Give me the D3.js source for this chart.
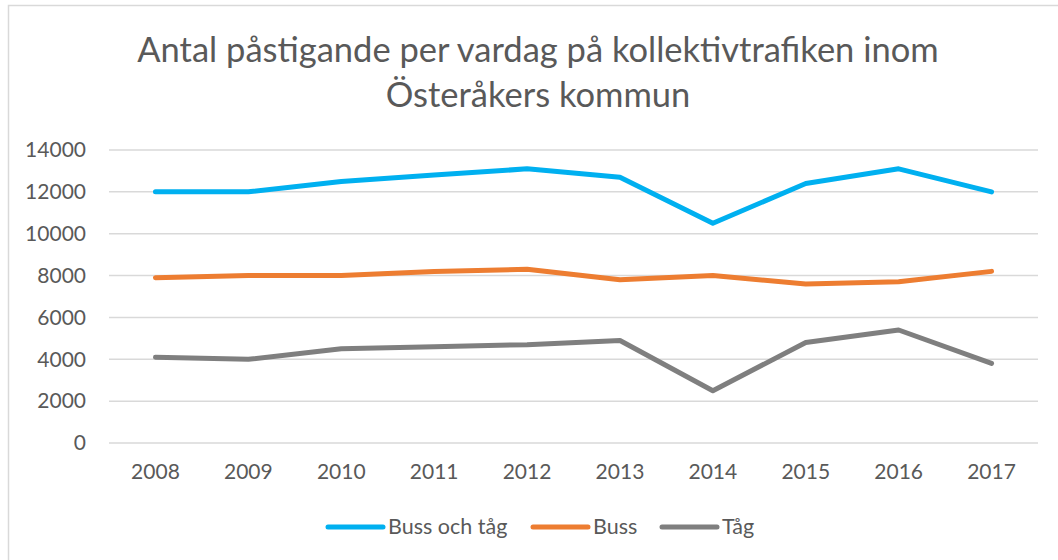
<!DOCTYPE html>
<html><head><meta charset="utf-8">
<script src="https://cdn.jsdelivr.net/npm/d3@7"></script>
<style>body{margin:0;background:#fff}svg{display:block}text{font-family:Lato,"Open Sans",sans-serif;fill:#595959}</style>
</head><body><svg id="c" width="1058" height="560"></svg>
<script>
const years = ["2008","2009","2010","2011","2012","2013","2014","2015","2016","2017"];
const bussOchTag = [12000,12000,12500,12800,13100,12700,10500,12400,13100,12000];
const buss = [7900,8000,8000,8200,8300,7800,8000,7600,7700,8200];
const tag = [4100,4000,4500,4600,4700,4900,2500,4800,5400,3800];
const seriesNames = ["Buss och tåg","Buss","Tåg"];
const colors = ["#00B0F0","#ED7D31","#7F7F7F"];
const yTicks = [0,2000,4000,6000,8000,10000,12000,14000];
const titleLines = ["Antal påstigande per vardag på kollektivtrafiken inom","Österåkers kommun"];

const svg = d3.select("#c");
svg.append("rect").attr("x",8.5).attr("y",5.5).attr("width",1070).attr("height",600)
  .attr("fill","none").attr("stroke","#D9D9D9").attr("stroke-width",1.5);

const x = d3.scaleBand().domain(years).range([109,1038]);
const y = d3.scaleLinear().domain([0,14000]).range([443,150]);

// title
const tt = svg.append("text").attr("text-anchor","middle").style("font-size","34.5px");
titleLines.forEach((l,i)=>tt.append("tspan").attr("x",538).attr("y",62+i*45).text(l));

// gridlines
svg.append("g").selectAll("line").data(yTicks).join("line")
  .attr("x1",109).attr("x2",1038).attr("y1",d=>y(d)).attr("y2",d=>y(d))
  .attr("stroke","#D9D9D9").attr("stroke-width",1.5);

// y axis
const ya = svg.append("g").attr("transform","translate(109,0)")
  .call(d3.axisLeft(y).tickValues(yTicks).tickSize(0).tickPadding(23).tickFormat(d3.format("d")));
ya.select(".domain").remove();
ya.selectAll("text").style("font-size","21px").attr("fill","#595959").attr("font-family","Lato");

// x axis
const xa = svg.append("g").attr("transform","translate(0,443)")
  .call(d3.axisBottom(x).tickSize(0).tickPadding(21));
xa.select(".domain").remove();
xa.selectAll("text").style("font-size","21px").attr("fill","#595959").attr("font-family","Lato");

const data = [bussOchTag,buss,tag];
const line = d3.line().x((d,i)=>x(years[i])+x.bandwidth()/2).y(d=>y(d));
svg.append("g").selectAll("path").data(data).join("path")
  .attr("d",line).attr("fill","none").attr("stroke",(d,i)=>colors[i])
  .attr("stroke-width",5).attr("stroke-linecap","round").attr("stroke-linejoin","round");

// legend
const legX = [328,533,662];
const lg = svg.append("g");
seriesNames.forEach((n,i)=>{
  lg.append("line").attr("x1",legX[i]).attr("x2",legX[i]+55).attr("y1",527).attr("y2",527)
    .attr("stroke",colors[i]).attr("stroke-width",5).attr("stroke-linecap","round");
  lg.append("text").attr("x",legX[i]+60).attr("y",534).style("font-size","21.5px").text(n);
});
</script></body></html>
